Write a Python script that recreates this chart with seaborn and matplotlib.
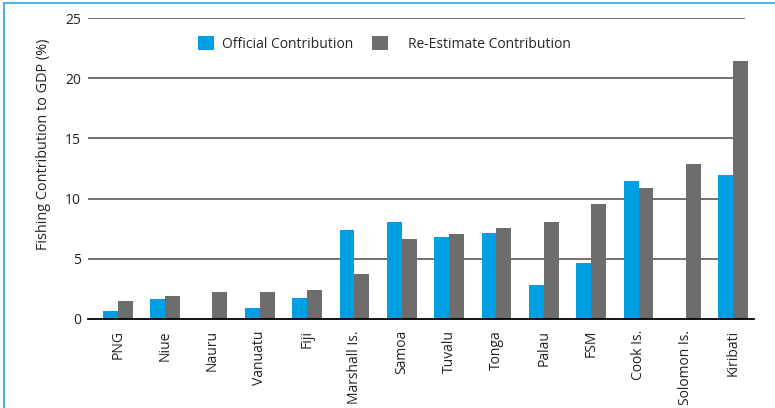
import numpy as np
import pandas as pd
import matplotlib
matplotlib.use("Agg")
import matplotlib.pyplot as plt
from matplotlib.lines import Line2D
import seaborn as sns

countries = ["PNG", "Niue", "Nauru", "Vanuatu", "Fiji", "Marshall Is.", "Samoa",
             "Tuvalu", "Tonga", "Palau", "FSM", "Cook Is.", "Solomon Is.", "Kiribati"]
official = [0.66, 1.66, np.nan, 0.9, 1.74, 7.4, 8.05, 6.8, 7.14, 2.82, 4.65, 11.46, np.nan, 11.96]
reestimate = [1.5, 1.9, 2.24, 2.24, 2.4, 3.74, 6.64, 7.06, 7.56, 8.05, 9.55, 10.88, 12.87, 21.43]
series_names = ["Official Contribution", "Re-Estimate Contribution"]
yticks = [0, 5, 10, 15, 20, 25]

df = pd.DataFrame({
    "Country": countries * 2,
    "Series": [series_names[0]] * len(countries) + [series_names[1]] * len(countries),
    "Value": official + reestimate,
})

sns.set_theme(style="white")
plt.rcParams["font.family"] = ["Open Sans", "DejaVu Sans"]

fig = plt.figure(figsize=(7.75, 4.08), dpi=100)
ax = fig.add_axes([88 / 775, 1 - 319 / 408, (754 - 88) / 775, (319 - 18) / 408])

sns.barplot(data=df, x="Country", y="Value", hue="Series", order=countries,
            hue_order=series_names, palette=["#009FE3", "#6D6D6D"],
            width=0.63, saturation=1, linewidth=0, ax=ax, zorder=3)

ax.set_xlim(-0.63, 13.44)
ax.set_ylim(0, 25)
ax.set_yticks(yticks)
ax.hlines(yticks[1:], -0.63, 13.25, colors="#4a4a4a", linewidth=1.1, zorder=1)
for s in ["left", "right", "top"]:
    ax.spines[s].set_visible(False)
ax.spines["bottom"].set_color("black")
ax.spines["bottom"].set_linewidth(1.3)
ax.spines["bottom"].set_zorder(4)
ax.tick_params(axis="both", length=0, labelsize=10, colors="#222222")
ax.tick_params(axis="y", pad=5)
ax.tick_params(axis="x", pad=8)
plt.setp(ax.get_xticklabels(), rotation=90)
ax.set_xlabel("")
ax.set_ylabel("Fishing Contribution to GDP (%)", fontsize=10.4, color="#222222")
ax.yaxis.set_label_coords(-0.055, 0.58)

handles, labels = ax.get_legend_handles_labels()
ax.get_legend().remove()
leg1 = ax.legend(handles[:1], labels[:1], loc="center left",
                 bbox_to_anchor=((198 - 88) / 666 - 0.0165, (319 - 44) / 301),
                 frameon=False, fontsize=10, handlelength=1.15, handleheight=1.15,
                 handletextpad=0.55, borderpad=0.3)
ax.add_artist(leg1)
ax.legend(handles[1:], labels[1:], loc="center left",
          bbox_to_anchor=((372 - 88) / 666 - 0.0165, (319 - 44) / 301),
          frameon=False, fontsize=10, handlelength=1.15, handleheight=1.15,
          handletextpad=1.4, borderpad=0.3)

fig.add_artist(Line2D([4 / 775, 4 / 775], [0, 1 - 3 / 408], transform=fig.transFigure,
                      color="#29A7E1", linewidth=1.2))
fig.add_artist(Line2D([4 / 775, 1], [1 - 3 / 408, 1 - 3 / 408], transform=fig.transFigure,
                      color="#29A7E1", linewidth=1.2))

fig.savefig("out.png", dpi=100)
